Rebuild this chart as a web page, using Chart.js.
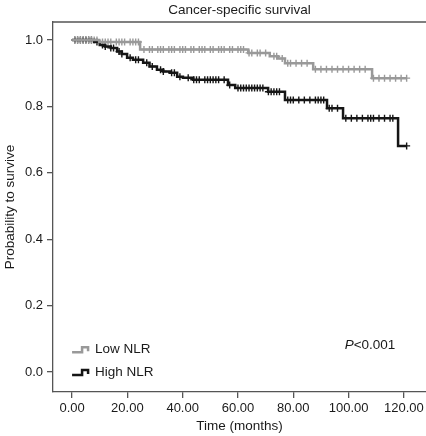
<!DOCTYPE html>
<html>
<head>
<meta charset="utf-8">
<script src="https://cdn.jsdelivr.net/npm/chart.js@4"></script>
<style>
  body { margin: 0; background: #fff; }
</style>
</head>
<body>
<canvas id="km" width="426" height="436"></canvas>
<script>
// Kaplan-Meier steps (time in months, survival after the drop)
var lowT = [0, 9.8, 24.6, 63.7, 71.5, 74.5, 77, 87.2, 108.5];
var lowS = [1, 0.994, 0.971, 0.961, 0.951, 0.944, 0.930, 0.912, 0.885];
var lowEnd = 121;

var highT = [0, 8, 10, 12, 14, 16.3, 18, 19.9, 22, 25.7, 28, 30.7, 33, 35.4, 38, 40.1, 43.8, 56.4, 59, 70.9, 77, 92.2, 98, 117.9];
var highS = [1, 0.994, 0.985, 0.98, 0.976, 0.965, 0.958, 0.946, 0.94, 0.931, 0.92, 0.91, 0.905, 0.901, 0.889, 0.886, 0.88, 0.864, 0.855, 0.844, 0.819, 0.794, 0.764, 0.681];
var highEnd = 121;

// censored cases (the little + marks)
var lowCens = [1, 2, 3, 4, 5, 6, 7, 8, 9, 11, 12, 13, 14, 16, 17, 18, 19, 21, 22, 23, 24, 26, 28, 29, 31, 32, 33, 35, 36, 37, 39, 40, 41, 43, 44, 46, 47, 48, 50, 51, 53, 54, 55, 57, 58, 60, 61, 62, 64, 65, 67, 68, 70, 73, 74, 76, 78, 79, 81, 83, 85, 88, 90, 92, 94, 96, 98, 100, 102, 104, 106, 109, 111, 113, 115, 117, 119, 121];
var highCens = [1, 2, 3, 4, 5, 6, 7, 9, 11, 12, 14, 15, 17, 18, 21, 23, 24, 27, 29, 32, 33, 36, 37, 39, 42, 44, 45, 46, 48, 49, 50, 51, 52, 53, 55, 57, 60, 61, 62, 63, 64, 65, 66, 67, 68, 69, 71, 72, 73, 74, 75, 78, 79, 80, 82, 84, 86, 88, 89, 90, 91, 93, 94, 96, 99, 101, 103, 105, 107, 108, 109, 111, 113, 115, 116, 121];

var xTicks = [0, 20, 40, 60, 80, 100, 120];
var yTicks = [0, 0.2, 0.4, 0.6, 0.8, 1.0];
var groups = ["Low NLR", "High NLR"];
var pText = "<0.001";

var FONT = "'Liberation Sans', Arial, Helvetica, sans-serif";
var GREY = "#999999";
var DARK = "#151515";
var TXT = "#1a1a1a";

function stepPoints(ts, ss, end) {
    var pts = [];
    for (var i = 0; i < ts.length; i++) pts.push({ x: ts[i], y: ss[i] });
    pts.push({ x: end, y: ss[ss.length - 1] });
    return pts;
}

function survAt(ts, ss, t) {
    var v = ss[0];
    for (var i = 0; i < ts.length; i++) {
        if (ts[i] <= t) v = ss[i];
    }
    return v;
}

function censPoints(cens, ts, ss) {
    return cens.map(function (t) { return { x: t, y: survAt(ts, ss, t) }; });
}

// frame top line, legend and p value
var extras = {
    id: "extras",
    afterDraw: function (chart) {
        var ctx = chart.ctx;
        var a = chart.chartArea;
        var xs = chart.scales.x, ys = chart.scales.y;
        ctx.save();
        ctx.strokeStyle = "#555";
        ctx.lineWidth = 1.3;
        ctx.beginPath();
        ctx.moveTo(a.left, a.top);
        ctx.lineTo(a.right, a.top);
        ctx.stroke();

        var cols = [GREY, DARK];
        var rows = [ys.getPixelForValue(0.069), ys.getPixelForValue(0.0)];
        var x0 = xs.getPixelForValue(0);
        for (var i = 0; i < groups.length; i++) {
            var y = rows[i];
            ctx.strokeStyle = cols[i];
            ctx.lineWidth = 2.5;
            ctx.beginPath();
            ctx.moveTo(x0, y + 3);
            ctx.lineTo(x0 + 10, y + 3);
            ctx.lineTo(x0 + 10, y - 2);
            ctx.lineTo(x0 + 16, y - 2);
            ctx.lineTo(x0 + 16, y + 2);
            ctx.stroke();
            ctx.fillStyle = TXT;
            ctx.font = "13.5px " + FONT;
            ctx.textBaseline = "middle";
            ctx.textAlign = "left";
            ctx.fillText(groups[i], x0 + 23, y);
        }

        var px = xs.getPixelForValue(98.6);
        var py = ys.getPixelForValue(0.08);
        ctx.font = "italic 13.5px " + FONT;
        ctx.fillText("P", px, py);
        var w = ctx.measureText("P").width;
        ctx.font = "13.5px " + FONT;
        ctx.fillText(pText, px + w, py);
        ctx.restore();
    }
};

var ctx = document.getElementById("km");
var myChart = new Chart(ctx, {
    type: "line",
    data: {
        datasets: [{
            label: groups[0],
            data: stepPoints(lowT, lowS, lowEnd),
            stepped: true,
            borderColor: GREY,
            borderWidth: 2.5,
            pointRadius: 0,
            fill: false
        }, {
            label: groups[1],
            data: stepPoints(highT, highS, highEnd),
            stepped: true,
            borderColor: DARK,
            borderWidth: 2.5,
            pointRadius: 0,
            fill: false
        }, {
            label: "low censored",
            data: censPoints(lowCens, lowT, lowS),
            showLine: false,
            pointStyle: "cross",
            pointRadius: 3.5,
            pointBorderWidth: 1.4,
            pointBorderColor: GREY
        }, {
            label: "high censored",
            data: censPoints(highCens, highT, highS),
            showLine: false,
            pointStyle: "cross",
            pointRadius: 3.5,
            pointBorderWidth: 1.4,
            pointBorderColor: DARK
        }]
    },
    options: {
        responsive: false,
        animation: false,
        layout: { padding: 0, autoPadding: false },
        plugins: {
            legend: { display: false },
            tooltip: { enabled: false },
            title: {
                display: true,
                text: "Cancer-specific survival",
                fullSize: false,
                color: TXT,
                font: { family: FONT, size: 13.5, weight: "normal" },
                padding: { top: 2, bottom: 3.8 }
            }
        },
        scales: {
            x: {
                type: "linear",
                min: -6.9,
                max: 128,
                afterBuildTicks: function (s) { s.ticks = xTicks.map(function (v) { return { value: v }; }); },
                afterFit: function (s) { s.height = 44; s.paddingLeft = 0; s.paddingRight = 0; },
                grid: { display: true, drawOnChartArea: false, drawTicks: true, tickLength: 6, color: "#555", lineWidth: 1.3 },
                border: { display: true, color: "#555", width: 1.3 },
                ticks: {
                    padding: 3,
                    maxRotation: 0,
                    autoSkip: false,
                    color: TXT,
                    font: { family: FONT, size: 13 },
                    callback: function (v) { return v.toFixed(2); }
                },
                title: {
                    display: true,
                    text: "Time (months)",
                    color: TXT,
                    font: { family: FONT, size: 13.5 },
                    padding: { top: 0, bottom: 2 }
                }
            },
            y: {
                min: -0.06,
                max: 1.054,
                afterBuildTicks: function (s) { s.ticks = yTicks.map(function (v) { return { value: v }; }); },
                afterFit: function (s) { s.width = 53; s.paddingTop = 0; s.paddingBottom = 0; },
                grid: { display: true, drawOnChartArea: false, drawTicks: true, tickLength: 6, color: "#555", lineWidth: 1.3 },
                border: { display: true, color: "#555", width: 1.3 },
                ticks: {
                    padding: 4,
                    autoSkip: false,
                    color: TXT,
                    font: { family: FONT, size: 13 },
                    callback: function (v) { return v.toFixed(1); }
                },
                title: {
                    display: true,
                    text: "Probability to survive",
                    color: TXT,
                    font: { family: FONT, size: 13.5 },
                    padding: { top: 2, bottom: 0 }
                }
            }
        }
    },
    plugins: [extras]
});
</script>
</body>
</html>
